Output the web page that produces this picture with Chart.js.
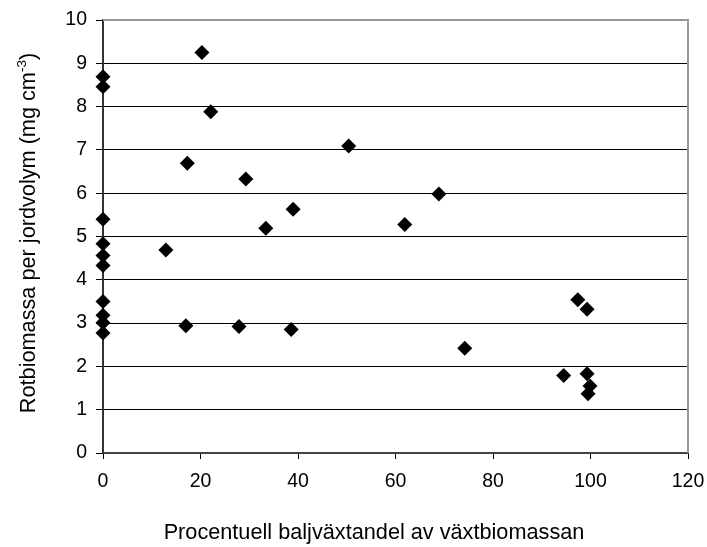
<!DOCTYPE html>
<html>
<head>
<meta charset="utf-8">
<script src="https://cdn.jsdelivr.net/npm/chart.js@4.4.1/dist/chart.umd.min.js"></script>
<style>
html,body{margin:0;padding:0;background:#fff;}
#wrap{width:707px;height:547px;position:relative;}
</style>
</head>
<body>
<div id="wrap"><canvas id="c" width="707" height="547"></canvas></div>
<script>
// Data
const xValues = [0, 0, 0, 0, 0, 0, 0, 0, 0, 0,
  20.3, 22.1, 17.3, 29.3, 39.0, 33.4, 12.9, 17.0, 27.9, 38.6,
  50.4, 68.9, 61.9, 74.2, 97.4, 99.3, 94.5, 99.3, 99.9, 99.5];
const yValues = [8.69, 8.46, 5.40, 4.83, 4.56, 4.33, 3.50, 3.18, 3.01, 2.77,
  9.25, 7.88, 6.69, 6.33, 5.63, 5.19, 4.69, 2.94, 2.92, 2.85,
  7.09, 5.98, 5.28, 2.42, 3.54, 3.32, 1.79, 1.83, 1.55, 1.37];
const xTicks = [0, 20, 40, 60, 80, 100, 120];
const yTicks = [0, 1, 2, 3, 4, 5, 6, 7, 8, 9, 10];
const xTitle = "Procentuell baljväxtandel av växtbiomassan";
const yTitleMain = "Rotbiomassa per jordvolym (mg cm";
const yTitleSup = "-3";
const yTitleEnd = ")";

const FONT = "'Liberation Sans', Arial, sans-serif";
const points = xValues.map((x, i) => ({x: x, y: yValues[i]}));

const framePlugin = {
  id: 'frame',
  beforeDatasetsDraw(chart) {
    const {ctx, chartArea: a} = chart;
    ctx.save();
    ctx.strokeStyle = '#999';
    ctx.lineWidth = 2;
    ctx.beginPath();
    ctx.moveTo(a.left, a.top);
    ctx.lineTo(a.right, a.top);
    ctx.lineTo(a.right, a.bottom);
    ctx.stroke();
    ctx.restore();
  },
  afterDraw(chart) {
    const {ctx} = chart;
    ctx.save();
    ctx.fillStyle = '#000';
    // x title
    ctx.font = "21.7px " + FONT;
    ctx.textAlign = 'center';
    ctx.textBaseline = 'alphabetic';
    ctx.fillText(xTitle, 374, 539);
    // y title rotated with superscript
    ctx.translate(35, 233);
    ctx.rotate(-Math.PI / 2);
    const mainFont = "21.7px " + FONT;
    const supFont = "13.5px " + FONT;
    ctx.font = mainFont;
    const w1 = ctx.measureText(yTitleMain).width;
    const w3 = ctx.measureText(yTitleEnd).width;
    ctx.font = supFont;
    const w2 = ctx.measureText(yTitleSup).width;
    const total = w1 + w2 + w3;
    let x0 = -total / 2;
    ctx.textAlign = 'left';
    ctx.font = mainFont;
    ctx.fillText(yTitleMain, x0, 0);
    ctx.font = supFont;
    ctx.fillText(yTitleSup, x0 + w1, -9);
    ctx.font = mainFont;
    ctx.fillText(yTitleEnd, x0 + w1 + w2, 0);
    ctx.restore();
  }
};

new Chart(document.getElementById('c'), {
  type: 'scatter',
  data: {
    datasets: [{
      data: points,
      pointStyle: 'rectRot',
      radius: 7.5,
      hoverRadius: 7.5,
      backgroundColor: '#000',
      borderColor: '#000',
      borderWidth: 0,
      clip: false
    }]
  },
  options: {
    responsive: false,
    animation: false,
    devicePixelRatio: 1,
    layout: {padding: {top: 20, right: 19, left: 0, bottom: 0}},
    plugins: {legend: {display: false}, tooltip: {enabled: false}},
    scales: {
      x: {
        type: 'linear',
        min: 0, max: 120,
        afterBuildTicks(scale) { scale.ticks = xTicks.map(v => ({value: v})); },
        afterFit(scale) { scale.height = 94; scale.paddingLeft = 0; scale.paddingRight = 0; },
        grid: {drawOnChartArea: false, drawTicks: true, tickLength: 6, color: '#000', lineWidth: 1},
        border: {color: '#444', width: 2},
        ticks: {color: '#000', font: {family: FONT, size: 19.5}, padding: 11, maxRotation: 0, autoSkip: false}
      },
      y: {
        type: 'linear',
        min: 0, max: 10,
        afterBuildTicks(scale) { scale.ticks = yTicks.map(v => ({value: v})); },
        afterFit(scale) { scale.width = 103; scale.paddingTop = 0; scale.paddingBottom = 0; },
        grid: {drawOnChartArea: true, drawTicks: true, tickLength: 7, color: '#000', lineWidth: 1},
        border: {color: '#333', width: 2},
        ticks: {color: '#000', font: {family: FONT, size: 19.5}, padding: 9, autoSkip: false}
      }
    }
  },
  plugins: [framePlugin]
});
</script>
</body>
</html>
